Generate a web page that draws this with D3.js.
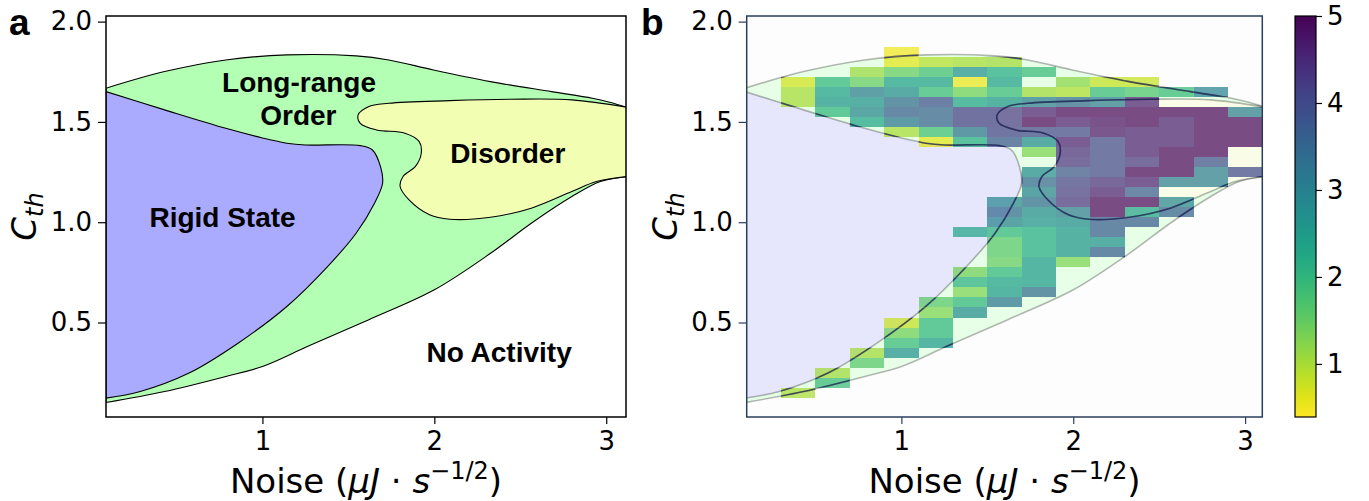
<!DOCTYPE html>
<html>
<head>
<meta charset="utf-8">
<script src="https://cdn.jsdelivr.net/npm/d3@7"></script>
<style>
body{margin:0;background:#fff}
</style>
</head>
<body>
<svg width="1369" height="501" font-family="DejaVu Sans"></svg>
<script>
// ---- data (noise, C_th) ----
var envTop = [[0.09,1.668],[0.431,1.751],[0.787,1.809],[1.142,1.834],[1.545,1.829],[1.735,1.809],[1.995,1.759],[2.327,1.701],[2.682,1.651],[2.919,1.618],[3.02,1.598],[3.12,1.573]];
var envBottom = [[0.09,0.101],[0.431,0.156],[0.787,0.231],[1.0,0.281],[1.261,0.380],[1.616,0.513],[2.0,0.663],[2.327,0.845],[2.564,0.995],[2.8,1.128],[2.966,1.203],[3.12,1.228]];
var rigid = [[0.09,1.651],[0.431,1.560],[0.787,1.468],[1.0,1.42],[1.142,1.394],[1.25,1.385],[1.569,1.382],[1.64,1.36],[1.687,1.277],[1.699,1.194],[1.652,1.095],[1.545,0.945],[1.379,0.779],[1.142,0.580],[0.858,0.397],[0.573,0.248],[0.289,0.156],[0.09,0.123]];
var disorder = [[3.12,1.573],[2.8,1.610],[2.445,1.613],[2.09,1.606],[1.735,1.593],[1.616,1.576],[1.557,1.535],[1.569,1.493],[1.664,1.460],[1.829,1.444],[1.912,1.402],[1.924,1.344],[1.889,1.277],[1.818,1.228],[1.801,1.178],[1.853,1.111],[1.972,1.037],[2.09,1.015],[2.327,1.025],[2.564,1.070],[2.80,1.153],[2.943,1.203],[3.12,1.228]];

var phaseLabels = [
  {text:"Long-range", x:1.213, y:1.651},
  {text:"Order", x:1.209, y:1.485},
  {text:"Rigid State", x:0.768, y:0.975},
  {text:"Disorder", x:2.427, y:1.295},
  {text:"No Activity", x:2.377, y:0.302}
];

var noiseCols = [0.4,0.6,0.8,1.0,1.2,1.4,1.6,1.8,2.0,2.2,2.4,2.6,2.8,3.0];
var cthRows = [1.85,1.80,1.75,1.70,1.65,1.60,1.55,1.50,1.45,1.40,1.35,1.30,1.25,1.20,1.15,1.10,1.05,1.00,0.95,0.90,0.85,0.80,0.75,0.70,0.65,0.60,0.55,0.50,0.45,0.40,0.35,0.30,0.25,0.20,0.15];
var _ = null;
var cellValues = [
 [_,_,_,0.5,_,_,_,_,_,_,_,_,_,_],
 [_,_,_,0.6,0.9,1.0,1.05,_,_,_,_,_,_,_],
 [_,_,1.1,1.5,1.8,2.7,2.2,1.9,_,_,_,_,_,_],
 [0.7,2.0,1.5,2.4,2.4,0.5,2.4,_,1.2,0.8,0.8,_,_,_],
 [1.0,2.4,3.1,2.8,1.9,1.4,1.9,1.05,0.95,1.9,1.7,1.9,3.0,_],
 [1.0,2.6,2.7,3.4,3.9,2.3,2.6,3.1,3.4,3.1,4.6,_,_,_],
 [_,2.0,2.9,3.7,3.6,4.2,4.2,4.6,4.9,4.9,4.9,4.9,4.9,3.1],
 [_,_,2.3,3.2,3.6,4.2,4.2,4.9,4.6,4.8,4.9,4.6,4.9,4.9],
 [_,_,_,1.0,1.8,3.3,4.1,4.0,4.0,4.7,4.6,4.6,4.9,4.9],
 [_,_,_,_,0.6,2.2,3.8,2.8,4.6,4.0,4.6,4.6,4.9,4.9],
 [_,_,_,_,_,_,_,1.3,4.4,4.0,4.6,4.9,4.9,_],
 [_,_,_,_,_,_,_,_,4.3,4.0,4.3,4.9,3.9,_],
 [_,_,_,_,_,_,_,2.8,3.8,4.0,4.9,4.9,3.1,4.0],
 [_,_,_,_,_,_,_,3.5,4.1,4.4,4.6,3.1,3.1,_],
 [_,_,_,_,_,_,_,3.0,4.2,4.6,3.7,_,_,_],
 [_,_,_,_,_,_,2.9,3.4,4.3,4.9,4.9,2.9,_,_],
 [_,_,_,_,_,_,3.5,2.8,3.1,4.9,2.3,3.6,_,_],
 [_,_,_,_,_,_,3.0,2.7,2.8,3.7,3.7,_,_,_],
 [_,_,_,_,_,2.3,2.0,2.2,2.6,3.7,_,_,_,_],
 [_,_,_,_,_,_,1.6,2.2,2.6,2.7,_,_,_,_],
 [_,_,_,_,_,_,1.6,2.2,2.6,3.7,_,_,_,_],
 [_,_,_,_,_,_,1.5,2.5,1.3,_,_,_,_,_],
 [_,_,_,_,_,1.4,2.0,2.5,_,_,_,_,_,_],
 [_,_,_,_,_,2.1,2.4,2.5,_,_,_,_,_,_],
 [_,_,_,_,_,1.3,2.5,3.4,_,_,_,_,_,_],
 [_,_,_,_,1.6,2.0,3.2,_,_,_,_,_,_,_],
 [_,_,_,_,1.3,2.8,_,_,_,_,_,_,_,_],
 [_,_,_,0.8,2.0,_,_,_,_,_,_,_,_,_],
 [_,_,_,1.4,2.0,_,_,_,_,_,_,_,_,_],
 [_,_,_,1.9,2.5,_,_,_,_,_,_,_,_,_],
 [_,_,1.05,2.7,_,_,_,_,_,_,_,_,_,_],
 [_,_,1.6,_,_,_,_,_,_,_,_,_,_,_],
 [_,1.05,_,_,_,_,_,_,_,_,_,_,_,_],
 [_,1.9,_,_,_,_,_,_,_,_,_,_,_,_],
 [1.0,_,_,_,_,_,_,_,_,_,_,_,_,_]
];
var cellW = 0.2, cellH = 0.05;

var yTicks = [0.5,1.0,1.5,2.0];
var xTicks = [1,2,3];
var cbTicks = [1,2,3,4,5];
var cbDomain = [0.39,5];

// ---- layout ----
var svg = d3.select("svg");
var frameA = {left:106, right:626, top:16, bottom:417};
var frameB = {left:746.7, right:1262.3, top:16, bottom:417};

var xA = d3.scaleLinear().domain([0.09,3.115]).range([frameA.left,frameA.right]);
var xB = d3.scaleLinear().domain([0.1,3.1]).range([frameB.left,frameB.right]);
var yS = d3.scaleLinear().domain([0.029,2.028]).range([frameA.bottom,frameA.top]);
var color = d3.scaleSequential(d3.interpolateViridis).domain([cbDomain[1],cbDomain[0]]);

// full colours for panel a, washed-out versions for panel b
var green = "#b3ffb3", blue = "#aaaaff", yellow = "#f2ffb3";
var paleGreen = "#e6ffe6", paleBlue = "#e6e6fc", paleYellow = "#f9fde8";

function lineGen(xs){
  return d3.line().x(function(d){return xs(d[0])}).y(function(d){return yS(d[1])}).curve(d3.curveCatmullRom.alpha(0.5));
}
function envPath(xs){
  var l = lineGen(xs);
  var last = envBottom[envBottom.length-1];
  return l(envTop) + "L" + xs(last[0]) + "," + yS(last[1]) + l(envBottom.slice().reverse()).replace(/^M/,"L") + "Z";
}
function rigidPath(xs){ return lineGen(xs)(rigid) + "Z"; }
function disPath(xs){ return lineGen(xs)(disorder) + "Z"; }

var defs = svg.append("defs");
function clipFor(id, f){
  defs.append("clipPath").attr("id",id).append("rect")
    .attr("x",f.left).attr("y",f.top).attr("width",f.right-f.left).attr("height",f.bottom-f.top);
}
clipFor("clipA", frameA);
clipFor("clipB", frameB);

function axes(xs, frame, stroke){
  var g = svg.append("g");
  var ya = g.append("g").attr("transform","translate("+frame.left+",0)")
    .call(d3.axisLeft(yS).tickValues(yTicks).tickFormat(d3.format(".1f")).tickSize(8).tickPadding(6));
  var xa = g.append("g").attr("transform","translate(0,"+frame.bottom+")")
    .call(d3.axisBottom(xs).tickValues(xTicks).tickFormat(d3.format("d")).tickSize(7).tickPadding(8));
  [ya,xa].forEach(function(a){
    a.select(".domain").remove();
    a.attr("font-size",26).attr("font-family","DejaVu Sans");
    a.selectAll("line").attr("stroke",stroke).attr("stroke-width",1.2);
    a.selectAll("text").attr("fill","#000");
  });
  g.append("rect").attr("x",frame.left).attr("y",frame.top)
    .attr("width",frame.right-frame.left).attr("height",frame.bottom-frame.top)
    .attr("fill","none").attr("stroke",stroke).attr("stroke-width",1.5);

  var cx = (frame.left+frame.right)/2;
  var xl = g.append("text").attr("x",cx).attr("y",493).attr("text-anchor","middle").attr("font-size",34);
  xl.append("tspan").text("Noise (");
  xl.append("tspan").attr("font-style","italic").text("\u03bcJ");
  xl.append("tspan").text(" \u00b7 ");
  xl.append("tspan").attr("font-style","italic").text("s");
  xl.append("tspan").attr("dy",-14).attr("font-size",24).text("\u22121/2");
  xl.append("tspan").attr("dy",14).text(")");

  var yl = g.append("text").attr("text-anchor","middle").attr("font-size",34)
    .attr("transform","translate("+(frame.left-70)+","+((frame.top+frame.bottom)/2)+") rotate(-90)");
  yl.append("tspan").attr("font-style","italic").text("C");
  yl.append("tspan").attr("font-style","italic").attr("font-size",24).attr("dy",7).text("th");
}

// ---- panel a ----
var gA = svg.append("g").attr("clip-path","url(#clipA)");
gA.append("rect").attr("x",frameA.left).attr("y",frameA.top).attr("width",frameA.right-frameA.left).attr("height",frameA.bottom-frameA.top).attr("fill","#fff");
gA.append("path").attr("d",envPath(xA)).attr("fill",green).attr("stroke","#000").attr("stroke-width",1.1);
gA.append("path").attr("d",rigidPath(xA)).attr("fill",blue).attr("stroke","#000").attr("stroke-width",1.1);
gA.append("path").attr("d",disPath(xA)).attr("fill",yellow).attr("stroke","#000").attr("stroke-width",1.1);

gA.selectAll("text.phase").data(phaseLabels).enter().append("text")
  .attr("class","phase")
  .attr("x",function(d){return xA(d.x)}).attr("y",function(d){return yS(d.y)})
  .attr("text-anchor","middle").attr("font-family","Liberation Sans")
  .attr("font-size",28).attr("font-weight","bold")
  .text(function(d){return d.text});

axes(xA, frameA, "#000");

// ---- panel b ----
var gB = svg.append("g").attr("clip-path","url(#clipB)");
gB.append("rect").attr("x",frameB.left).attr("y",frameB.top).attr("width",frameB.right-frameB.left).attr("height",frameB.bottom-frameB.top).attr("fill","#fdfdfd");
[[envPath,paleGreen],[rigidPath,paleBlue],[disPath,paleYellow]].forEach(function(p){
  gB.append("path").attr("d",p[0](xB)).attr("fill",p[1]).attr("stroke","none");
});
[envPath,rigidPath,disPath].forEach(function(p){
  gB.append("path").attr("d",p(xB)).attr("fill","none").attr("stroke","#000").attr("stroke-opacity",0.28).attr("stroke-width",1.6);
});

var cells = [];
cellValues.forEach(function(row,i){
  row.forEach(function(v,j){
    if(v!==null) cells.push({x:noiseCols[j], y:cthRows[i], v:v});
  });
});
function cellAttrs(sel){
  sel.attr("x",function(d){return xB(d.x-cellW/2)})
    .attr("y",function(d){return yS(d.y+cellH/2)})
    .attr("width",function(d){return xB(d.x+cellW/2)-xB(d.x-cellW/2)})
    .attr("height",function(d){return yS(d.y-cellH/2)-yS(d.y+cellH/2)});
}
gB.append("g").selectAll("rect").data(cells).enter().append("rect")
  .call(cellAttrs)
  .attr("fill",function(d){return color(d.v)})
  .attr("fill-opacity",0.72)
  .attr("shape-rendering","crispEdges");

// contour lines look darker where they cross the cells
var cellClip = defs.append("clipPath").attr("id","cellClip");
cellClip.selectAll("rect").data(cells).enter().append("rect").call(cellAttrs);
var gOver = gB.append("g").attr("clip-path","url(#cellClip)");
[envPath,rigidPath,disPath].forEach(function(p){
  gOver.append("path").attr("d",p(xB)).attr("fill","none").attr("stroke","#1c1f52").attr("stroke-opacity",0.75).attr("stroke-width",1.6);
});

axes(xB, frameB, "#2a3d5c");

// ---- colorbar ----
var cb = {left:1295, width:21};
var yC = d3.scaleLinear().domain(cbDomain).range([frameB.bottom,frameB.top]);
var grad = defs.append("linearGradient").attr("id","cbGrad").attr("x1",0).attr("y1",1).attr("x2",0).attr("y2",0);
d3.range(0,1.0001,0.05).forEach(function(t){
  var v = cbDomain[0] + t*(cbDomain[1]-cbDomain[0]);
  grad.append("stop").attr("offset",t).attr("stop-color",color(v));
});
svg.append("rect").attr("x",cb.left).attr("y",yC(cbDomain[1])).attr("width",cb.width)
  .attr("height",yC(cbDomain[0])-yC(cbDomain[1])).attr("fill","url(#cbGrad)")
  .attr("stroke","#000").attr("stroke-width",1.2);
var cbAxis = svg.append("g").attr("transform","translate("+(cb.left+cb.width)+",0)")
  .call(d3.axisRight(yC).tickValues(cbTicks).tickFormat(d3.format("d")).tickSize(6).tickPadding(5));
cbAxis.select(".domain").remove();
cbAxis.attr("font-size",26).attr("font-family","DejaVu Sans");
cbAxis.selectAll("line").attr("stroke","#000").attr("stroke-width",1.2);
cbAxis.selectAll("text").attr("fill","#000");

// ---- panel letters ----
svg.append("text").attr("x",9).attr("y",35).attr("font-family","Liberation Sans").attr("font-weight","bold").attr("font-size",37).text("a");
svg.append("text").attr("x",641).attr("y",35).attr("font-family","Liberation Sans").attr("font-weight","bold").attr("font-size",37).text("b");
</script>
</body>
</html>
